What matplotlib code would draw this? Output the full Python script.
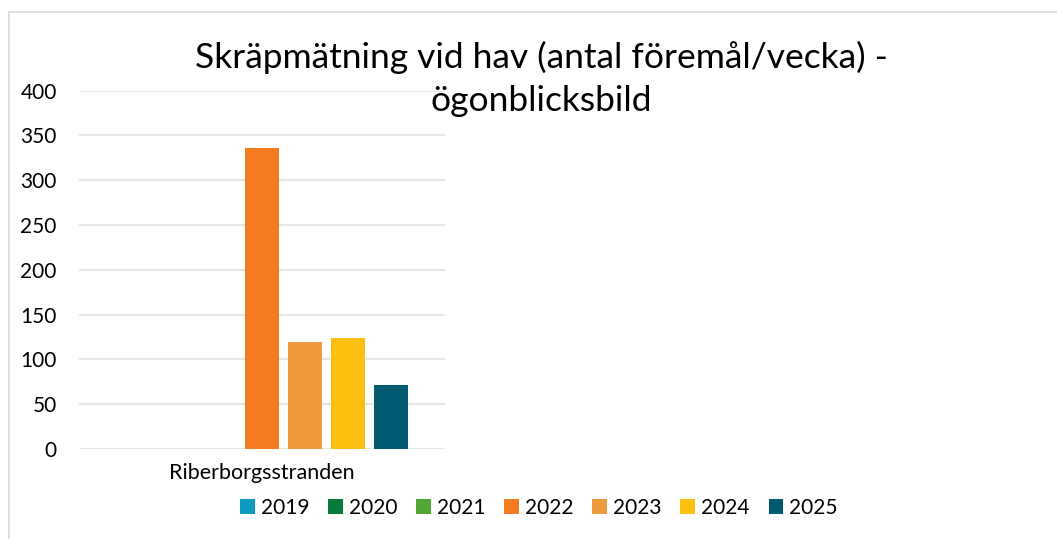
import numpy as np
import matplotlib.pyplot as plt
from matplotlib.patches import Rectangle, Patch

plt.rcParams['font.family'] = ['Lato', 'DejaVu Sans']

category = 'Riberborgsstranden'
years = ['2019', '2020', '2021', '2022', '2023', '2024', '2025']
values = [0, 0, 0, 336, 119, 124, 71]
colors = ['#0E9BC0', '#087B3A', '#53A833', '#F47B20', '#EE9A3F', '#FDC010', '#005B70']

W, H = 1057, 539
fig = plt.figure(figsize=(W / 100, H / 100), dpi=100)

# chart border (right and bottom edges fall outside the image)
fig.patches.append(Rectangle((9 / W, -0.2), 1.2, 1.2 - 12 / H, transform=fig.transFigure,
                             fill=False, edgecolor='#D9D9D9', linewidth=1.2))

ax = fig.add_axes([79 / W, 1 - 449 / H, 366 / W, 358.3 / H])

bw = 34 / 366
step = 43 / 366
x = (np.arange(len(years)) - 3) * step
for xi, v, c, y in zip(x, values, colors, years):
    ax.bar(xi, v, width=bw, color=c, label=y, zorder=3)

ax.set_xlim(-0.5, 0.5)
ax.set_ylim(0, 400)
ax.set_yticks(np.arange(0, 401, 50))
ax.set_xticks([0])
ax.set_xticklabels([category])
ax.tick_params(axis='both', length=0, colors='#000000')
ax.tick_params(axis='y', pad=16, labelsize=15)
ax.tick_params(axis='x', pad=10, labelsize=15.5)
ax.grid(axis='y', color='#E6E6E6', linewidth=1.5, zorder=0)
for s in ax.spines.values():
    s.set_visible(False)

fig.text(541 / W, 1 - 57 / H, 'Skräpmätning vid hav (antal föremål/vecka) -',
         ha='center', va='center', fontsize=25.5)
fig.text(541 / W, 1 - 101 / H, 'ögonblicksbild', ha='center', va='center', fontsize=25.5)

handles = [Patch(facecolor=c, label=y) for c, y in zip(colors, years)]
fig.legend(handles=handles, loc='center', bbox_to_anchor=(539 / W, 1 - 508 / H),
           ncol=7, frameon=False, fontsize=15, handlelength=0.7, handleheight=0.7,
           handletextpad=0.3, columnspacing=0.9)

fig.savefig('out.png', dpi=100)
